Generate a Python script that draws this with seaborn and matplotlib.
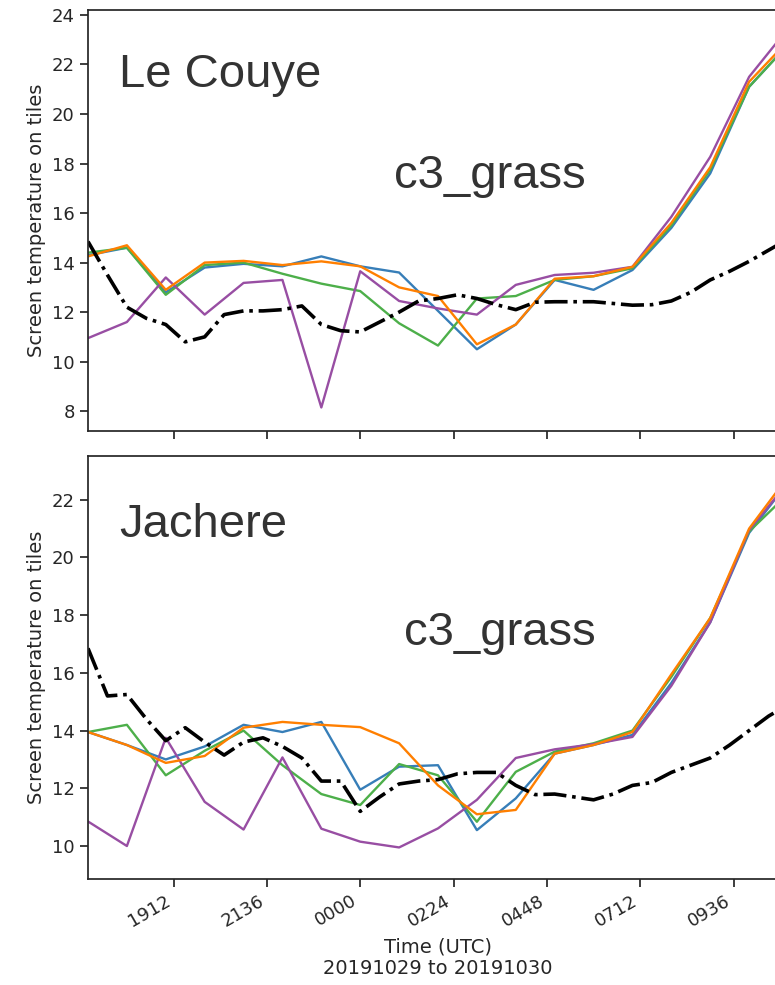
import matplotlib
matplotlib.use("Agg")
import matplotlib.pyplot as plt
import matplotlib.dates as mdates
import numpy as np
import pandas as pd
import seaborn as sns

# ---------------- data ----------------
start_time = "2019-10-29 17:00"
n_hourly = 19
n_half = 37

tick_times = ["2019-10-29 19:12", "2019-10-29 21:36", "2019-10-30 00:00",
              "2019-10-30 02:24", "2019-10-30 04:48", "2019-10-30 07:12",
              "2019-10-30 09:36"]
tick_labels = ["1912", "2136", "0000", "0224", "0448", "0712", "0936"]

sites = ["Le Couye", "Jachere"]
tile_name = "c3_grass"

# Le Couye (hourly tiles)
top_blue = [14.3, 14.6, 12.8, 13.8, 13.95, 13.85, 14.25, 13.85, 13.6, 12.05,
            10.5, 11.5, 13.3, 12.9, 13.7, 15.4, 17.6, 21.1, 22.8]
top_green = [14.4, 14.6, 12.7, 13.9, 14.0, 13.55, 13.15, 12.85, 11.55, 10.65,
             12.55, 12.65, 13.3, 13.45, 13.77, 15.5, 17.75, 21.1, 22.8]
top_purple = [10.95, 11.6, 13.4, 11.9, 13.18, 13.3, 8.15, 13.65, 12.45, 12.15,
              11.9, 13.1, 13.5, 13.59, 13.83, 15.85, 18.27, 21.5, 23.45]
top_orange = [14.25, 14.7, 12.9, 14.0, 14.07, 13.9, 14.05, 13.85, 13.0, 12.65,
              10.7, 11.5, 13.35, 13.45, 13.83, 15.6, 17.85, 21.3, 22.95]
# Le Couye (half-hourly observation)
top_black = [14.85, 13.5, 12.2, 11.75, 11.5, 10.8, 11.0, 11.9, 12.05, 12.05,
             12.1, 12.25, 11.5, 11.25, 11.2, 11.6, 12.0, 12.45, 12.55, 12.7,
             12.55, 12.3, 12.1, 12.4, 12.42, 12.42, 12.42, 12.35, 12.28, 12.3,
             12.45, 12.8, 13.3, 13.65, 14.05, 14.5, 14.95]

# Jachere (hourly tiles)
bot_blue = [13.95, 13.5, 13.0, 13.45, 14.2, 13.95, 14.3, 11.95, 12.75, 12.8,
            10.55, 11.65, 13.2, 13.5, 13.85, 15.65, 17.75, 20.85, 22.6]
bot_green = [13.95, 14.2, 12.45, 13.3, 14.0, 12.8, 11.8, 11.42, 12.84, 12.45,
             10.84, 12.57, 13.27, 13.56, 14.0, 15.86, 17.9, 20.9, 22.2]
bot_purple = [10.85, 10.0, 13.75, 11.53, 10.57, 13.07, 10.6, 10.15, 9.95, 10.61,
              11.6, 13.05, 13.35, 13.53, 13.78, 15.55, 17.75, 20.95, 22.6]
bot_orange = [13.95, 13.5, 12.88, 13.12, 14.1, 14.3, 14.2, 14.12, 13.56, 12.1,
              11.1, 11.25, 13.2, 13.5, 13.95, 15.95, 17.9, 21.0, 22.8]
# Jachere (half-hourly observation)
bot_black = [16.85, 15.2, 15.25, 14.4, 13.65, 14.1, 13.6, 13.15, 13.6, 13.75,
             13.45, 13.05, 12.25, 12.25, 11.2, 11.7, 12.15, 12.25, 12.3, 12.5,
             12.55, 12.55, 12.1, 11.78, 11.8, 11.7, 11.6, 11.8, 12.1, 12.2,
             12.55, 12.8, 13.05, 13.5, 14.0, 14.5, 14.9]

# ---------------- style ----------------
sns.set_style("ticks")
plt.rcParams.update({
    "font.family": ["DejaVu Sans"],
    "axes.linewidth": 1.25,
    "xtick.major.width": 1.25,
    "ytick.major.width": 1.25,
    "xtick.major.size": 6,
    "ytick.major.size": 6,
    "xtick.labelsize": 13,
    "ytick.labelsize": 13,
    "axes.labelsize": 14,
})

W, H = 775, 985
fig = plt.figure(figsize=(W / 100, H / 100), dpi=100)
ax1 = fig.add_axes([88 / W, 1 - 431 / H, 700 / W, 421 / H])
ax2 = fig.add_axes([88 / W, 1 - 878.6 / H, 700 / W, 423 / H], sharex=ax1)

t_hour = pd.date_range(start_time, periods=n_hourly, freq="h")
t_half = pd.date_range(start_time, periods=n_half, freq="30min")

pal = sns.color_palette("Set1")
c_blue, c_green, c_purple, c_orange = pal[1], pal[2], pal[3], pal[4]

panels = [
    (ax1, top_blue, top_green, top_purple, top_orange, top_black, (7.2, 24.2),
     np.arange(8, 25, 2)),
    (ax2, bot_blue, bot_green, bot_purple, bot_orange, bot_black, (8.87, 23.53),
     np.arange(10, 23, 2)),
]

for ax, b, g, p, o, k, ylim, yt in panels:
    for vals, col in [(b, c_blue), (g, c_green), (p, c_purple), (o, c_orange)]:
        sns.lineplot(x=t_hour, y=vals, color=col, linewidth=1.7,
                     estimator=None, ax=ax)
    sns.lineplot(x=t_half, y=k, color="black", linestyle="-.",
                 linewidth=2.6, estimator=None, ax=ax)
    ax.set_ylim(*ylim)
    ax.set_yticks(yt)
    ax.set_ylabel("Screen temperature on tiles")
    ax.set_xlim(t_hour[0], t_hour[-1])

ticks = mdates.date2num(pd.to_datetime(tick_times).to_pydatetime())
ax2.set_xticks(ticks)
ax2.set_xticklabels(tick_labels)
ax1.tick_params(labelbottom=False)
plt.setp(ax2.get_xticklabels(), rotation=30, ha="right")
ax1.set_xlabel("")
ax2.set_xlabel("Time (UTC)\n20191029 to 20191030", labelpad=5)

txt_kw = dict(fontsize=34, color="#333333", family=["Liberation Sans", "DejaVu Sans"],
              ha="left", va="baseline")
fig.text(119 / W, 1 - 87 / H, sites[0], **txt_kw)
fig.text(394 / W, 1 - 188 / H, tile_name, **txt_kw)
fig.text(119 / W, 1 - 537 / H, sites[1], **txt_kw)
fig.text(404 / W, 1 - 645 / H, tile_name, **txt_kw)

fig.savefig("out.png", dpi=100)
